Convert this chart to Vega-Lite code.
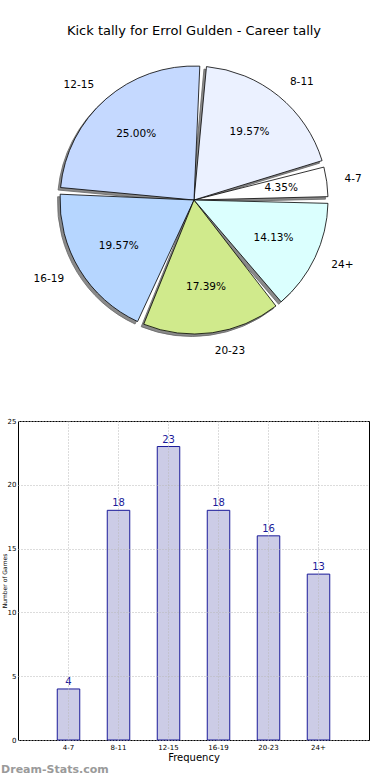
{
  "$schema": "https://vega.github.io/schema/vega-lite/v6.json",
  "padding": {"top": 25, "left": 0, "right": 0, "bottom": 0},
  "background": "white",
  "config": {"font": "DejaVu Sans", "view": {"stroke": null}},
  "datasets": {
    "kicks": [
      {"range": "4-7", "n": 1, "count": 4, "pct": "4.35%"},
      {"range": "8-11", "n": 2, "count": 18, "pct": "19.57%"},
      {"range": "12-15", "n": 3, "count": 23, "pct": "25.00%"},
      {"range": "16-19", "n": 4, "count": 18, "pct": "19.57%"},
      {"range": "20-23", "n": 5, "count": 16, "pct": "17.39%"},
      {"range": "24+", "n": 6, "count": 13, "pct": "14.13%"}
    ]
  },
  "spacing": 59,
  "vconcat": [
    {
      "width": 352,
      "height": 310,
      "title": {"text": "Kick tally for Errol Gulden - Career tally", "fontSize": 13, "fontWeight": "normal", "color": "black", "offset": 7},
      "data": {"name": "kicks"},
      "encoding": {
        "theta": {"field": "count", "type": "quantitative", "stack": true, "scale": {"range": [1.5708, -4.7124]}},
        "order": {"field": "n", "type": "quantitative"}
      },
      "layer": [
        {
          "mark": {"type": "arc", "radius": 134, "padAngle": 0.05, "x": 173.5, "y": 157.5, "fill": "#8a8a8a", "stroke": "#666666", "strokeWidth": 0.8},
          "encoding": {"detail": {"field": "range"}}
        },
        {
          "mark": {"type": "arc", "radius": 134, "padAngle": 0.05, "stroke": "black", "strokeWidth": 0.8},
          "encoding": {
            "color": {"field": "range", "type": "nominal", "legend": null,
              "scale": {"domain": ["4-7", "8-11", "12-15", "16-19", "20-23", "24+"],
                        "range": ["#ffffff", "#ebf1ff", "#c5d9ff", "#b6d6ff", "#d0ea8c", "#dbfffe"]}}
          }
        },
        {
          "mark": {"type": "text", "radius": 88, "fontSize": 10.5, "color": "black"},
          "encoding": {"text": {"field": "pct"}, "detail": {"field": "range"}}
        },
        {
          "mark": {"type": "text", "radius": 152, "fontSize": 10.5, "color": "black",
                   "align": {"expr": "indexof(['12-15','16-19'], datum.range) >= 0 ? 'right' : 'left'"}},
          "encoding": {"text": {"field": "range"}, "detail": {"field": "range"}}
        }
      ]
    },
    {
      "width": 351,
      "height": 319,
      "view": {"stroke": "black", "strokeWidth": 1},
      "data": {"name": "kicks"},
      "title": {"text": "Dream-Stats.com", "orient": "bottom", "anchor": "start", "frame": "bounds", "fontSize": 11, "fontWeight": "bold", "color": "#9a9a9a", "offset": 2},
      "encoding": {
        "x": {"field": "range", "type": "nominal", "sort": null,
          "scale": {"paddingInner": 0.55, "paddingOuter": 0.785},
          "axis": {"title": "Frequency", "labelAngle": 0, "labelFontSize": 7, "labelColor": "black", "titleFontSize": 10, "titleFontWeight": "normal", "titleColor": "black",
                   "grid": true, "gridDash": [1, 2], "gridColor": "#b8b8b8", "bandPosition": 0.5, "domain": false, "ticks": false, "labelPadding": 3, "titlePadding": 2, "zindex": 1}},
        "y": {"field": "count", "type": "quantitative",
          "scale": {"domain": [0, 25], "nice": false},
          "axis": {"values": [0, 5, 10, 15, 20, 25], "title": "Number of Games", "labelFontSize": 7, "labelColor": "black", "titleFontSize": 6, "titleFontWeight": "normal", "titleColor": "black",
                   "grid": true, "gridDash": [1, 2], "gridColor": "#b8b8b8", "domain": false, "ticks": false, "labelPadding": 2, "titlePadding": 0, "zindex": 1}}
      },
      "layer": [
        {"mark": {"type": "bar", "fill": "#cccce6", "stroke": "#1a1a99", "strokeWidth": 1}},
        {"mark": {"type": "text", "baseline": "bottom", "dy": -2, "fontSize": 10, "color": "#1a1a99"},
         "encoding": {"text": {"field": "count", "type": "quantitative"}}}
      ]
    }
  ]
}
